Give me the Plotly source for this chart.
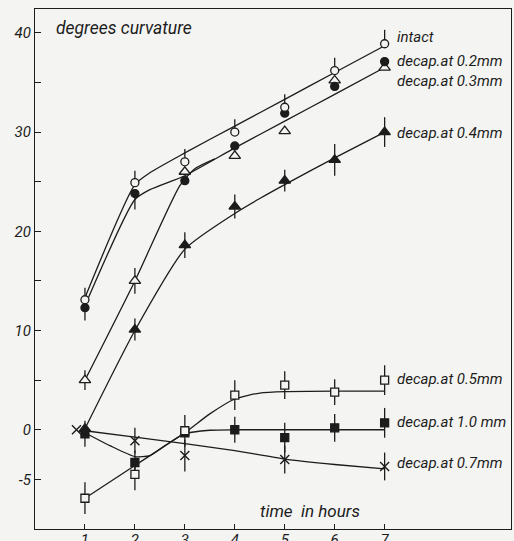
import plotly.graph_objects as go

# ---------------- data ----------------
hours = [1, 2, 3, 4, 5, 6, 7]

intact = [13.1, 24.9, 27.0, 30.0, 32.5, 36.2, 38.9]
decap_02 = [12.3, 23.8, 25.1, 28.6, 31.9, 34.6, 37.1]
decap_03 = [5.0, 15.0, 26.0, 27.6, 30.1, 35.2, 36.5]
decap_04 = [0.1, 10.1, 18.6, 22.5, 25.1, 27.2, 30.0]
decap_05 = [-6.9, -4.5, -0.1, 3.5, 4.5, 3.8, 5.0]
decap_10 = [-0.4, -3.3, -0.3, 0.0, -0.8, 0.2, 0.7]
decap_07_hours = [0.83, 2, 3, 5, 7]
decap_07 = [0.0, -1.1, -2.6, -3.0, -3.7]

# error bars (upper / lower half-lengths)
intact_err_up = [1.2, 1.2, 1.3, 1.3, 1.3, 1.3, 1.4]
intact_err_dn = [0, 0, 0, 0, 0, 0, 0]
decap_02_err_up = [0, 0, 0, 0, 0, 0, 0]
decap_02_err_dn = [1.3, 1.6, 0, 0, 0, 0, 0]
decap_03_err = [1.0, 1.3, 0, 0, 0, 0, 0]
decap_04_err = [0, 1.1, 1.3, 1.2, 1.1, 1.6, 1.5]
decap_05_err = [1.6, 1.6, 1.6, 1.5, 1.4, 1.3, 1.5]
decap_10_err = [1.3, 1.2, 0, 1.3, 1.5, 1.4, 1.5]
decap_07_err = [0, 1.3, 1.6, 1.4, 1.4]

# fitted curves drawn by hand in the original
intact_curve_x = [1, 2, 2.3, 3, 4, 5, 6, 7]
intact_curve_y = [13.3, 24.7, 25.9, 27.9, 30.6, 33.3, 36.0, 38.7]
decap_02_curve_x = [1, 2, 2.3, 3, 4, 5, 6, 7]
decap_02_curve_y = [12.5, 23.2, 24.2, 25.6, 28.4, 31.1, 33.8, 36.5]
decap_03_curve_x = [1, 2, 2.9, 3.2, 3.6]
decap_03_curve_y = [5.0, 15.0, 24.6, 26.3, 27.3]
decap_04_curve_x = [1, 2, 3, 4, 4.5, 5, 6, 7]
decap_04_curve_y = [0.1, 10.0, 18.2, 21.8, 23.3, 24.7, 27.4, 30.0]
decap_05_curve_x = [1, 2, 3, 3.5, 4, 4.5, 5, 6, 7]
decap_05_curve_y = [-6.9, -3.6, -0.3, 1.6, 3.1, 3.7, 3.85, 3.9, 3.9]
decap_10_curve_x = [1, 1.5, 2, 2.3, 2.6, 3, 3.5, 4, 5, 6, 7]
decap_10_curve_y = [-0.3, -1.6, -2.7, -2.6, -1.6, -0.4, -0.05, 0, 0, 0, 0]
decap_07_curve_x = [1, 2, 3, 4, 5, 6, 7]
decap_07_curve_y = [-0.1, -0.75, -1.4, -2.1, -2.95, -3.5, -3.95]

y_tickvals = [-5, 0, 5, 10, 15, 20, 25, 30, 35, 40]
y_ticktext = ["-5", "0", "", "10", "", "20", "", "30", "", "40"]

labels = ["intact", "decap.at 0.2mm", "decap.at 0.3mm", "decap.at 0.4mm",
          "decap.at 0.5mm", "decap.at 1.0 mm", "decap.at 0.7mm"]
label_y = [39.6, 37.2, 35.1, 29.9, 5.1, 0.8, -3.3]

# ---------------- styling ----------------
INK = "#1c1c1c"
BG = "#f4f4f2"
FONT = "Roboto, sans-serif"

fig = go.Figure()

curves = [
    (intact_curve_x, intact_curve_y),
    (decap_02_curve_x, decap_02_curve_y),
    (decap_03_curve_x, decap_03_curve_y),
    (decap_04_curve_x, decap_04_curve_y),
    (decap_05_curve_x, decap_05_curve_y),
    (decap_10_curve_x, decap_10_curve_y),
    (decap_07_curve_x, decap_07_curve_y),
]
for cx, cy in curves:
    fig.add_trace(go.Scatter(x=cx, y=cy, mode="lines",
                             line=dict(color=INK, width=1.3, shape="spline", smoothing=0.6),
                             hoverinfo="skip", showlegend=False))


def pts(x, y, symbol, fill, size, up, dn):
    fig.add_trace(go.Scatter(
        x=x, y=y, mode="markers", showlegend=False,
        marker=dict(symbol=symbol, size=size, color=fill,
                    line=dict(color=INK, width=1.3)),
        error_y=dict(type="data", symmetric=False, array=up, arrayminus=dn,
                     color=INK, thickness=1.3, width=0),
    ))


pts(hours, decap_04, "triangle-up", INK, 10, decap_04_err, decap_04_err)
pts(hours, decap_03, "triangle-up", BG, 10, decap_03_err, decap_03_err)
pts(hours, decap_02, "circle", INK, 8, decap_02_err_up, decap_02_err_dn)
pts(hours, intact, "circle", BG, 8, intact_err_up, intact_err_dn)
pts(hours, decap_10, "square", INK, 8, decap_10_err, decap_10_err)
pts(hours, decap_05, "square", BG, 8, decap_05_err, decap_05_err)
fig.add_trace(go.Scatter(
    x=decap_07_hours, y=decap_07, mode="markers", showlegend=False,
    marker=dict(symbol="x-thin", size=9, color=INK, line=dict(color=INK, width=1.4)),
    error_y=dict(type="data", array=decap_07_err, color=INK, thickness=1.3, width=0),
))

annotations = []
for txt, yy in zip(labels, label_y):
    annotations.append(dict(x=7.2, y=yy, text="<i>" + txt + "</i>", showarrow=False,
                            xanchor="left", yanchor="middle",
                            font=dict(family=FONT, size=15, color=INK)))
annotations.append(dict(x=0.38, y=40.5, text="<i>degrees curvature</i>", showarrow=False,
                        xanchor="left", yanchor="middle",
                        font=dict(family=FONT, size=17.5, color=INK)))
annotations.append(dict(x=4.47, y=-8.2, text="<i>time  in hours</i>", showarrow=False,
                        xanchor="left", yanchor="middle",
                        font=dict(family=FONT, size=17, color=INK)))

fig.update_layout(
    width=514, height=541,
    margin=dict(l=35, r=3, t=9, b=12),
    paper_bgcolor=BG, plot_bgcolor=BG,
    annotations=annotations,
    xaxis=dict(range=[0, 9.53], tickvals=hours, ticktext=[str(h) for h in hours],
               ticks="inside", ticklen=5, tickwidth=1.2, tickcolor=INK,
               showline=True, linecolor=INK, linewidth=1.3, mirror=True,
               showgrid=False, zeroline=False, automargin=False,
               ticklabelstandoff=-3,
               tickfont=dict(family=FONT, size=15, color=INK, style="italic")),
    yaxis=dict(range=[-10, 42.4], tickvals=y_tickvals, ticktext=y_ticktext,
               ticks="inside", ticklen=6, tickwidth=1.2, tickcolor=INK,
               showline=True, linecolor=INK, linewidth=1.3, mirror=True,
               showgrid=False, zeroline=False, automargin=False,
               tickfont=dict(family=FONT, size=15, color=INK, style="italic")),
)

fig.write_html(
    "out.html",
    config={"displayModeBar": False},
    post_script="document.body.style.margin='0';document.body.style.overflow='hidden';"
                "document.body.style.background='" + BG + "';",
)
